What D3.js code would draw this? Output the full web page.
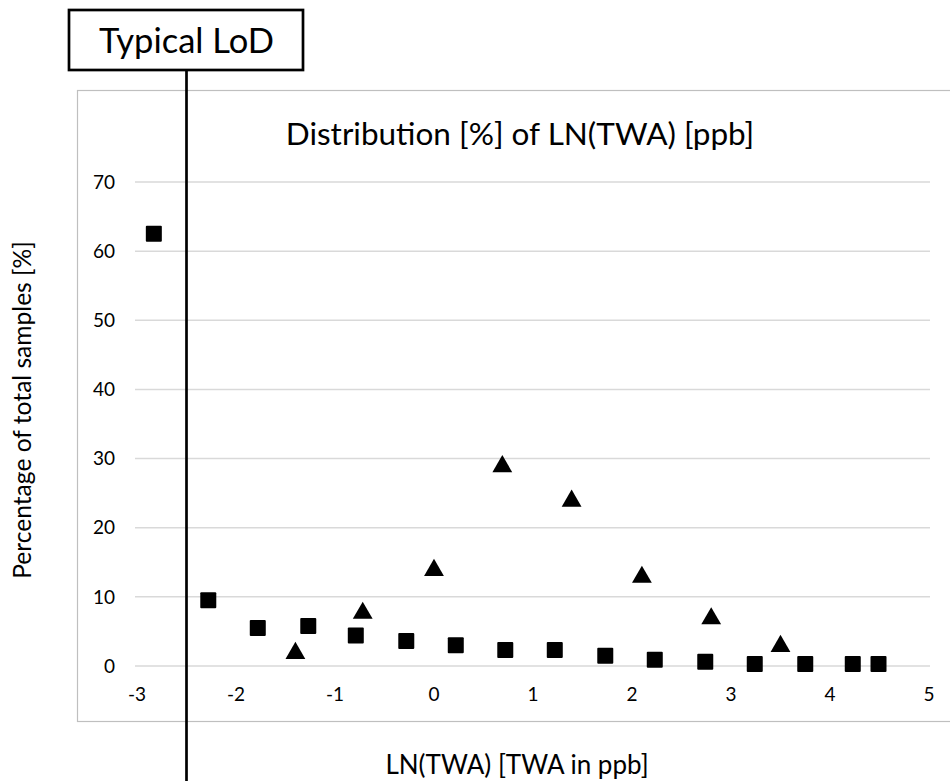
<!DOCTYPE html>
<html>
<head>
<meta charset="utf-8">
<script src="https://cdn.jsdelivr.net/npm/d3@7"></script>
<style>
  body {margin:0; background:#fff;}
  svg text {font-family: Lato, "Open Sans", sans-serif; fill:#000;}
</style>
</head>
<body>
<svg width="950" height="781"></svg>
<script>
// data
var squareX = [-2.83, -2.28, -1.78, -1.27, -0.79, -0.28, 0.22, 0.72, 1.22, 1.73, 2.23, 2.74, 3.24, 3.75, 4.23, 4.49];
var squareY = [62.5, 9.5, 5.5, 5.8, 4.4, 3.6, 3.0, 2.3, 2.3, 1.5, 0.9, 0.6, 0.3, 0.3, 0.3, 0.3];
var triX = [-1.40, -0.72, 0.0, 0.69, 1.39, 2.10, 2.80, 3.50];
var triY = [2.0, 7.8, 14.0, 29.0, 24.0, 13.0, 7.0, 3.0];
var xTicks = [-3, -2, -1, 0, 1, 2, 3, 4, 5];
var yTicks = [0, 10, 20, 30, 40, 50, 60, 70];
var lod = -2.5;

var svg = d3.select("svg");

var x = d3.scaleLinear().domain([-3, 5]).range([137, 929]);
var y = d3.scaleLinear().domain([0, 70]).range([666, 182]);

// chart area frame
svg.append("rect")
    .attr("x", 77.5).attr("y", 90.5)
    .attr("width", 900).attr("height", 631)
    .attr("fill", "none").attr("stroke", "#bfbfbf").attr("stroke-width", 1.2);

// gridlines
svg.append("g").selectAll("line")
    .data(yTicks)
    .enter().append("line")
      .attr("x1", x(-3) - 2).attr("x2", x(5) + 1)
      .attr("y1", function(d) { return y(d); })
      .attr("y2", function(d) { return y(d); })
      .attr("stroke", "#d9d9d9").attr("stroke-width", 1.5);

// y tick labels
svg.append("g").selectAll("text")
    .data(yTicks)
    .enter().append("text")
      .attr("x", 115)
      .attr("y", function(d) { return y(d); })
      .attr("dy", "0.35em")
      .attr("text-anchor", "end")
      .attr("font-size", 19)
      .text(function(d) { return d; });

// x tick labels
svg.append("g").selectAll("text")
    .data(xTicks)
    .enter().append("text")
      .attr("x", function(d) { return x(d); })
      .attr("y", 694)
      .attr("dy", "0.35em")
      .attr("text-anchor", "middle")
      .attr("font-size", 19)
      .text(function(d) { return d; });

// title
svg.append("text")
    .attr("x", 520).attr("y", 145)
    .attr("text-anchor", "middle")
    .attr("font-size", 31.5)
    .text("Distribution [%] of LN(TWA) [ppb]");

// axis titles
svg.append("text")
    .attr("x", 517).attr("y", 774)
    .attr("text-anchor", "middle")
    .attr("font-size", 26)
    .text("LN(TWA) [TWA in ppb]");

svg.append("text")
    .attr("transform", "translate(31,410) rotate(-90)")
    .attr("text-anchor", "middle")
    .attr("font-size", 24.6)
    .text("Percentage of total samples [%]");

// markers
var squares = squareX.map(function(d, i) { return {x: d, y: squareY[i]}; });
var tris = triX.map(function(d, i) { return {x: d, y: triY[i]}; });

svg.append("g").selectAll("rect")
    .data(squares)
    .enter().append("rect")
      .attr("x", function(d) { return x(d.x) - 8; })
      .attr("y", function(d) { return y(d.y) - 8; })
      .attr("width", 16).attr("height", 16)
      .attr("rx", 1)
      .attr("fill", "#000");

var triSym = d3.symbol().type(d3.symbolTriangle).size(170);
svg.append("g").selectAll("path")
    .data(tris)
    .enter().append("path")
      .attr("transform", function(d) { return "translate(" + x(d.x) + "," + (y(d.y) + 1) + ")"; })
      .attr("d", triSym)
      .attr("fill", "#000");

// typical LoD line and box
svg.append("line")
    .attr("x1", x(lod)).attr("x2", x(lod))
    .attr("y1", 70).attr("y2", 781)
    .attr("stroke", "#000").attr("stroke-width", 2.7);

svg.append("rect")
    .attr("x", 69).attr("y", 10)
    .attr("width", 234).attr("height", 60)
    .attr("fill", "#fff").attr("stroke", "#000").attr("stroke-width", 2.7);

svg.append("text")
    .attr("x", x(lod)).attr("y", 53)
    .attr("text-anchor", "middle")
    .attr("font-size", 34.5)
    .text("Typical LoD");
</script>
</body>
</html>
